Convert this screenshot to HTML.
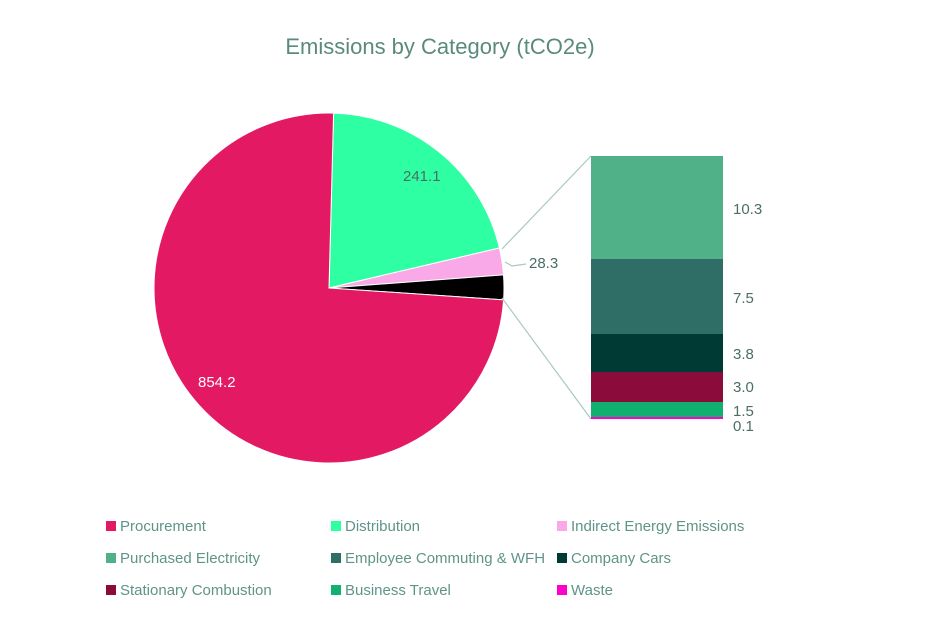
<!DOCTYPE html>
<html><head><meta charset="utf-8"><style>
body{margin:0;background:#fff;}
svg text{font-family:"Liberation Sans",sans-serif;}
</style></head><body>
<svg width="937" height="627" viewBox="0 0 937 627" xmlns="http://www.w3.org/2000/svg">
<rect width="937" height="627" fill="#fff"/>
<text x="440" y="54" text-anchor="middle" font-size="22" fill="#5a8a7e">Emissions by Category (tCO2e)</text>
<g stroke="#fff" stroke-width="1">
<path d="M329,288 L333.6,113.1 A175,175 0 0 1 499.4,248 Z" fill="#2effa3"/>
<path d="M329,288 L499.4,248 A175,175 0 0 1 503.5,274.9 Z" fill="#f9a8e8"/>
<path d="M329,288 L503.5,274.9 A175,175 0 0 1 503.6,299.9 Z" fill="#000"/>
<path d="M329,288 L503.6,299.9 A175,175 0 1 1 333.6,113.1 Z" fill="#e31a63"/>
</g>
<g stroke="#a9c9c0" stroke-width="1.2" fill="none">
<line x1="502" y1="249" x2="591" y2="156"/>
<line x1="502" y1="298" x2="591" y2="419"/>
<polyline points="505,262 512,266 526,264"/>
</g>
<rect x="591" y="156" width="132" height="103" fill="#50b088"/>
<rect x="591" y="259" width="132" height="75" fill="#2f6e66"/>
<rect x="591" y="334" width="132" height="38" fill="#003a34"/>
<rect x="591" y="372" width="132" height="30" fill="#8b0c3a"/>
<rect x="591" y="402" width="132" height="15" fill="#0fb070"/>
<rect x="591" y="417" width="132" height="2" fill="#ff00cc"/>
<g font-size="15" fill="#4a6e66">
<text x="403" y="181">241.1</text>
<text x="198" y="387" fill="#fff">854.2</text>
<text x="529" y="268">28.3</text>
<text x="733" y="214">10.3</text>
<text x="733" y="303">7.5</text>
<text x="733" y="359">3.8</text>
<text x="733" y="392">3.0</text>
<text x="733" y="416">1.5</text>
<text x="733" y="431">0.1</text>
</g>
<g font-size="15" fill="#5f9488">
<rect x="106" y="521" width="10" height="10" fill="#e31a63"/><text x="120" y="531">Procurement</text>
<rect x="331" y="521" width="10" height="10" fill="#2effa3"/><text x="345" y="531">Distribution</text>
<rect x="557" y="521" width="10" height="10" fill="#f9a8e8"/><text x="571" y="531">Indirect Energy Emissions</text>
<rect x="106" y="553" width="10" height="10" fill="#50b088"/><text x="120" y="563">Purchased Electricity</text>
<rect x="331" y="553" width="10" height="10" fill="#2f6e66"/><text x="345" y="563">Employee Commuting &amp; WFH</text>
<rect x="557" y="553" width="10" height="10" fill="#003a34"/><text x="571" y="563">Company Cars</text>
<rect x="106" y="585" width="10" height="10" fill="#8b0c3a"/><text x="120" y="595">Stationary Combustion</text>
<rect x="331" y="585" width="10" height="10" fill="#0fb070"/><text x="345" y="595">Business Travel</text>
<rect x="557" y="585" width="10" height="10" fill="#ff00cc"/><text x="571" y="595">Waste</text>
</g>
</svg>
</body></html>
